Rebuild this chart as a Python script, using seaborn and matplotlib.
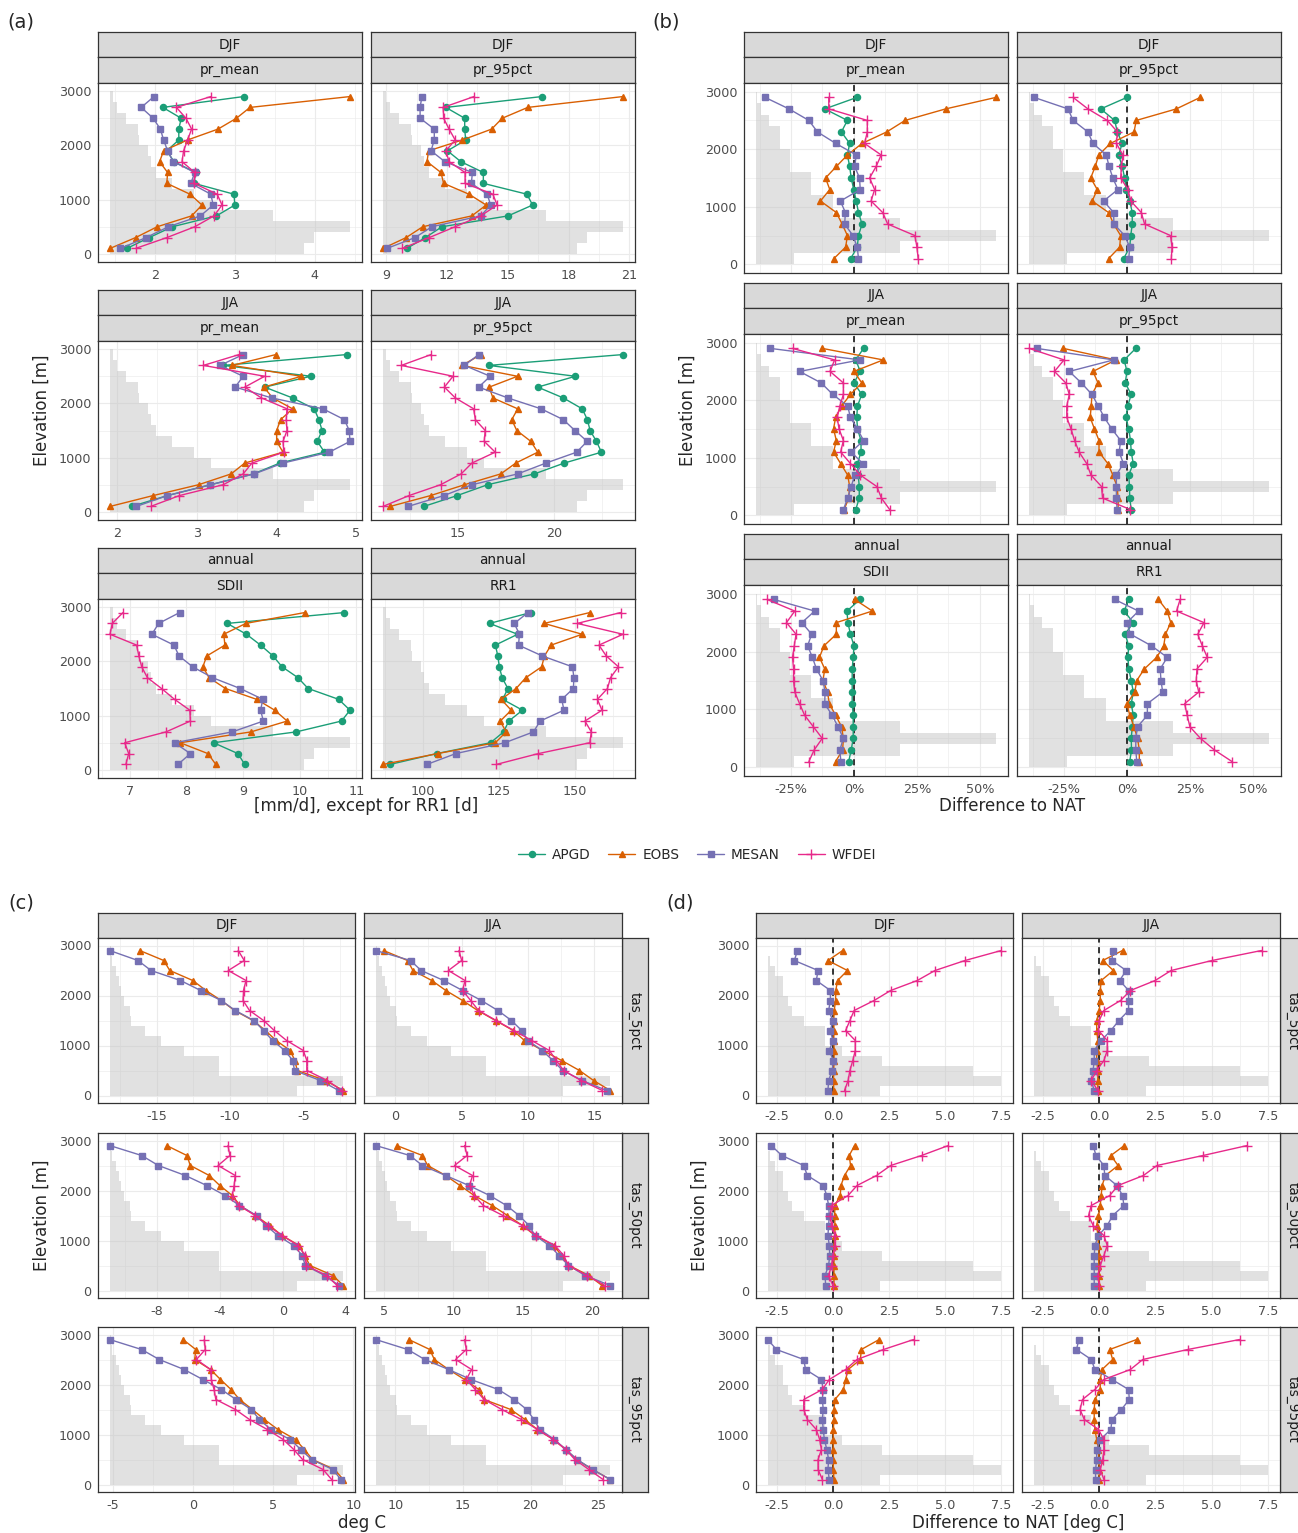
import pandas as pd
import matplotlib
matplotlib.use("Agg")
import matplotlib.pyplot as plt
from matplotlib.lines import Line2D
from matplotlib.ticker import AutoMinorLocator, MultipleLocator
import seaborn as sns

sns.set_style("white")
plt.rcParams["font.family"] = ["DejaVu Sans"]

# elevation bands (top to bottom), all series below follow this order
elev = [2900, 2700, 2500, 2300, 2100, 1900, 1700, 1500, 1300, 1100, 900, 700, 500, 300, 100]
datasets = ["APGD", "EOBS", "MESAN", "WFDEI"]

# relative area per elevation band (background histogram), one per panel group
hist_a = [0.014, 0.028, 0.067, 0.115, 0.12, 0.16, 0.17, 0.19, 0.26, 0.35, 0.42, 0.68, 1.0, 0.85, 0.81]
hist_b = [0.003, 0.02, 0.056, 0.10, 0.10, 0.14, 0.14, 0.23, 0.23, 0.32, 0.32, 0.60, 1.0, 0.60, 0.16]
hist_c = [0.004, 0.012, 0.025, 0.04, 0.05, 0.06, 0.085, 0.09, 0.15, 0.22, 0.32, 0.47, 0.47, 1.0, 0.80]
hist_d = [0.003, 0.01, 0.03, 0.067, 0.067, 0.086, 0.106, 0.155, 0.245, 0.245, 0.32, 0.49, 0.88, 1.0, 0.48]

# (a) absolute values
a_djf_mean_apgd = [3.11, 2.10, 2.33, 2.30, 2.30, 2.15, 2.24, 2.51, 2.49, 2.99, 3.00, 2.77, 2.22, 1.93, 1.65]
a_djf_mean_eobs = [4.44, 3.19, 3.02, 2.79, 2.41, 2.11, 2.06, 2.16, 2.15, 2.44, 2.59, 2.46, 2.03, 1.76, 1.44]
a_djf_mean_mesan = [1.99, 1.83, 1.98, 2.07, 2.11, 2.16, 2.23, 2.50, 2.45, 2.70, 2.73, 2.57, 2.17, 1.89, 1.57]
a_djf_mean_wfdei = [2.70, 2.27, 2.39, 2.46, 2.41, 2.36, 2.34, 2.50, 2.49, 2.78, 2.84, 2.74, 2.50, 2.15, 1.76]

a_djf_p95_apgd = [16.68, 11.94, 12.87, 12.87, 12.92, 12.02, 12.68, 13.79, 13.79, 15.94, 16.22, 15.01, 11.75, 10.93, 10.01]
a_djf_p95_eobs = [20.68, 15.98, 14.72, 14.20, 12.76, 11.09, 11.01, 11.70, 11.83, 13.08, 13.93, 13.22, 10.80, 9.98, 8.84]
a_djf_p95_mesan = [10.76, 10.67, 10.67, 11.37, 11.37, 11.21, 11.89, 13.25, 13.20, 13.98, 14.15, 13.66, 11.25, 10.42, 9.03]
a_djf_p95_wfdei = [13.33, 11.81, 11.83, 12.10, 12.40, 11.94, 12.10, 12.89, 12.89, 14.26, 14.47, 13.66, 12.40, 11.12, 9.78]

a_jja_mean_apgd = [4.88, 3.33, 4.43, 3.85, 4.20, 4.47, 4.53, 4.57, 4.51, 4.60, 4.04, 3.71, 3.17, 2.63, 2.18]
a_jja_mean_eobs = [3.99, 3.44, 4.31, 3.84, 3.95, 4.20, 4.05, 4.00, 4.00, 4.08, 3.60, 3.43, 3.02, 2.45, 1.91]
a_jja_mean_mesan = [3.58, 3.29, 3.58, 3.48, 3.94, 4.58, 4.85, 4.91, 4.92, 4.66, 4.08, 3.72, 3.17, 2.63, 2.24]
a_jja_mean_wfdei = [3.53, 3.08, 3.85, 3.60, 3.81, 4.13, 4.12, 4.13, 4.08, 4.09, 3.69, 3.58, 3.33, 2.78, 2.42]

a_jja_p95_apgd = [23.57, 16.59, 21.10, 19.14, 20.47, 21.45, 21.72, 21.86, 22.19, 22.45, 20.52, 18.97, 16.53, 14.95, 13.22]
a_jja_p95_eobs = [16.19, 15.21, 18.09, 16.62, 16.81, 18.10, 17.79, 18.05, 18.78, 19.14, 18.00, 17.22, 15.33, 13.57, 11.47]
a_jja_p95_mesan = [16.07, 15.33, 16.67, 16.07, 17.59, 19.31, 20.47, 21.07, 21.71, 21.16, 19.57, 18.10, 15.72, 14.26, 12.40]
a_jja_p95_wfdei = [13.60, 12.05, 14.74, 14.29, 14.86, 15.81, 15.90, 16.41, 16.36, 16.93, 15.72, 15.16, 14.09, 12.45, 11.10]

a_sdii_apgd = [10.79, 8.72, 9.06, 9.31, 9.53, 9.69, 9.97, 10.15, 10.69, 10.89, 10.74, 9.94, 8.48, 8.91, 9.03]
a_sdii_eobs = [10.09, 9.05, 8.66, 8.68, 8.36, 8.29, 8.40, 8.69, 9.24, 9.56, 9.78, 9.14, 7.89, 8.38, 8.52]
a_sdii_mesan = [7.88, 7.51, 7.39, 7.78, 7.87, 8.11, 8.46, 8.95, 9.35, 9.31, 9.36, 8.81, 7.79, 8.07, 7.85]
a_sdii_wfdei = [6.88, 6.69, 6.65, 7.12, 7.16, 7.21, 7.31, 7.56, 7.79, 8.06, 8.07, 7.64, 6.91, 6.98, 6.93]

a_rr1_apgd = [135.5, 122.0, 131.2, 123.9, 124.7, 125.2, 126.1, 128.0, 126.3, 132.8, 128.3, 126.6, 122.3, 104.6, 89.3]
a_rr1_eobs = [154.9, 139.9, 152.4, 142.2, 140.0, 139.1, 133.9, 130.7, 125.8, 129.1, 125.5, 127.4, 123.9, 104.9, 87.0]
a_rr1_mesan = [134.6, 130.1, 131.8, 131.5, 139.3, 149.2, 149.7, 149.5, 145.7, 146.4, 138.6, 136.4, 127.0, 110.9, 101.4]
a_rr1_wfdei = [165.0, 150.8, 165.8, 157.9, 160.3, 164.3, 161.7, 160.7, 157.4, 158.9, 153.3, 155.4, 154.9, 138.0, 124.2]

# (b) difference to NAT [%]
b_djf_mean_apgd = [1.2, -11.6, -2.6, -5.0, -1.7, -2.6, -1.7, -1.1, -0.1, 0.9, 1.8, 3.2, 1.8, 1.3, -1.3]
b_djf_mean_eobs = [56.4, 36.4, 20.3, 13.0, 3.2, -2.6, -7.0, -11.3, -9.6, -13.3, -7.0, -4.7, -2.6, -3.3, -8.0]
b_djf_mean_mesan = [-35.3, -25.8, -17.9, -14.5, -7.2, 0.9, 0.3, 2.2, 2.5, -5.4, -3.4, -3.7, -0.4, 1.3, 1.8]
b_djf_mean_wfdei = [-10.0, -10.0, 5.3, 5.3, 4.2, 10.8, 8.8, 6.2, 8.2, 6.8, 11.4, 13.4, 24.2, 25.0, 25.5]

b_djf_p95_apgd = [0.0, -10.4, -4.9, -3.8, -1.9, -3.3, -1.9, -0.9, -0.3, 1.1, 2.1, 2.1, 1.5, 1.1, -1.3]
b_djf_p95_eobs = [29.1, 19.6, 3.7, 2.8, -6.6, -11.2, -12.6, -14.4, -11.8, -13.8, -7.3, -5.3, -2.5, -2.9, -7.3]
b_djf_p95_mesan = [-36.9, -23.4, -21.4, -15.5, -13.5, -8.2, -7.1, -5.6, -3.6, -9.3, -5.3, -5.2, -0.9, 1.1, 0.7]
b_djf_p95_wfdei = [-21.4, -15.5, -7.8, -3.8, -4.2, -1.6, -2.2, -2.5, 0.4, 1.5, 5.7, 7.0, 17.3, 17.9, 17.6]

b_jja_mean_apgd = [3.8, 0.7, 2.5, 0.0, 3.1, 1.4, 1.1, 1.4, 2.8, 2.8, 1.4, 1.7, 2.1, 2.1, 0.7]
b_jja_mean_eobs = [-12.6, 11.6, 0.0, 3.1, -1.4, -4.9, -7.3, -8.1, -7.0, -8.1, -5.3, -2.5, -1.7, -2.1, -3.9]
b_jja_mean_mesan = [-33.2, 2.4, -21.6, -13.0, -8.4, -2.5, -1.4, 1.4, 3.8, -1.1, 3.5, 0.3, -1.1, -2.5, -4.2]
b_jja_mean_wfdei = [-24.4, -7.7, -9.5, -4.2, -4.2, -5.6, -6.7, -5.9, -4.2, -5.3, -1.4, 2.5, 9.1, 10.9, 14.2]

b_jja_p95_apgd = [3.5, -1.1, 0.0, -0.7, 1.7, 0.3, -0.4, 0.7, 1.4, 1.7, 2.5, 0.7, 1.0, 1.1, 1.7]
b_jja_p95_eobs = [-25.3, -4.4, -13.5, -11.5, -13.9, -14.2, -14.6, -12.9, -11.1, -11.1, -7.6, -5.6, -3.9, -3.5, -3.5]
b_jja_p95_mesan = [-35.8, -5.3, -22.9, -18.1, -13.9, -11.4, -9.0, -6.0, -2.5, -3.1, -1.4, -4.2, -4.2, -4.2, -3.9]
b_jja_p95_wfdei = [-38.9, -25.0, -28.8, -24.3, -22.9, -23.9, -23.9, -22.2, -20.8, -19.0, -16.0, -14.3, -10.1, -9.7, 1.4]

b_sdii_apgd = [2.4, -2.8, -2.4, -1.4, 0.0, -0.3, -0.7, -0.7, -0.7, -0.7, -0.3, -0.3, -0.3, -1.1, -2.1]
b_sdii_eobs = [0.3, 7.3, -7.0, -7.0, -11.9, -13.7, -11.6, -12.3, -10.5, -9.8, -7.3, -4.9, -4.2, -4.5, -7.3]
b_sdii_mesan = [-31.8, -15.6, -20.7, -16.8, -18.4, -16.5, -14.9, -12.3, -11.5, -11.6, -8.7, -6.3, -4.2, -5.6, -5.2]
b_sdii_wfdei = [-34.5, -23.5, -26.8, -23.0, -23.7, -24.4, -24.0, -24.0, -23.5, -21.6, -19.6, -16.1, -12.6, -15.8, -17.9]

b_rr1_apgd = [0.7, -1.1, 2.5, -0.7, 0.7, 0.4, 0.7, 1.7, 2.5, 1.7, 2.5, 2.1, 1.7, 1.8, 1.1]
b_rr1_eobs = [12.5, 16.0, 17.4, 15.3, 14.6, 11.8, 6.9, 3.9, 3.1, 0.0, 1.1, 2.8, 4.2, 4.9, 4.9]
b_rr1_mesan = [-4.9, 4.6, 0.0, 1.4, 9.7, 16.0, 13.2, 13.5, 14.2, 8.1, 8.1, 4.2, 3.5, 3.5, 3.9]
b_rr1_wfdei = [21.1, 19.7, 30.6, 28.1, 29.9, 31.9, 27.8, 27.5, 28.5, 22.9, 23.9, 25.0, 29.2, 34.7, 41.7]

# (c) temperature [deg C]
c_djf_p05_eobs = [-16.16, -14.52, -14.11, -12.54, -11.64, -10.60, -9.69, -8.43, -7.58, -6.86, -5.89, -5.58, -5.41, -3.48, -2.27]
c_djf_p05_mesan = [-18.21, -16.28, -15.39, -13.38, -12.00, -10.60, -9.64, -8.38, -7.71, -7.10, -6.26, -5.72, -5.60, -3.84, -2.58]
c_djf_p05_wfdei = [-9.44, -9.03, -10.12, -8.91, -9.08, -9.11, -8.67, -7.71, -6.98, -6.14, -5.00, -4.76, -4.76, -3.36, -2.39]

c_jja_p05_eobs = [-0.88, 0.93, 1.33, 2.75, 3.81, 5.07, 6.21, 7.55, 8.88, 9.73, 11.12, 12.53, 13.87, 14.93, 16.19]
c_jja_p05_mesan = [-1.47, 1.15, 1.95, 3.65, 5.07, 6.48, 7.73, 8.75, 9.52, 10.00, 11.07, 11.87, 12.61, 14.08, 15.92]
c_jja_p05_wfdei = [4.80, 5.00, 4.00, 5.25, 5.07, 5.68, 6.27, 7.60, 8.93, 10.27, 11.60, 12.13, 12.67, 14.00, 15.60]

c_djf_p50_eobs = [-7.38, -6.09, -5.87, -4.67, -4.00, -3.21, -2.71, -1.74, -0.84, -0.05, 1.04, 1.38, 1.72, 3.18, 3.84]
c_djf_p50_mesan = [-10.99, -8.96, -7.90, -6.19, -4.83, -3.66, -2.75, -1.67, -1.06, -0.32, 0.68, 1.24, 1.42, 2.66, 3.57]
c_djf_p50_wfdei = [-3.48, -3.36, -4.11, -3.02, -3.09, -3.21, -2.80, -1.74, -0.95, -0.05, 0.97, 1.42, 1.49, 2.78, 3.45]

c_jja_p50_eobs = [5.93, 7.78, 8.16, 9.45, 10.48, 11.50, 12.79, 13.89, 14.97, 15.87, 17.24, 17.75, 18.32, 19.73, 20.68]
c_jja_p50_mesan = [4.43, 6.88, 7.78, 9.45, 11.12, 12.61, 13.82, 14.72, 15.44, 15.87, 16.90, 17.60, 18.27, 19.47, 21.27]
c_jja_p50_wfdei = [10.81, 10.99, 10.09, 11.38, 11.17, 11.50, 12.15, 13.56, 14.97, 15.95, 17.29, 17.93, 18.27, 19.60, 20.89]

c_djf_p95_eobs = [-0.62, 0.18, 0.11, 1.10, 1.72, 2.38, 2.91, 3.71, 4.46, 5.30, 6.40, 6.95, 7.46, 8.83, 9.38]
c_djf_p95_mesan = [-5.19, -3.20, -2.10, -0.55, 0.62, 1.77, 2.69, 3.64, 4.15, 4.86, 6.07, 6.73, 7.40, 8.72, 9.23]
c_djf_p95_wfdei = [0.71, 0.77, 0.22, 1.10, 1.15, 1.32, 1.43, 2.65, 3.53, 4.64, 5.63, 6.29, 6.84, 8.12, 8.65]

c_jja_p95_eobs = [11.00, 12.55, 12.89, 13.94, 15.12, 16.17, 16.56, 18.53, 19.58, 20.50, 21.68, 22.60, 23.39, 24.57, 25.88]
c_jja_p95_mesan = [8.56, 10.92, 12.18, 13.94, 15.59, 17.61, 18.79, 19.71, 20.24, 20.68, 21.76, 22.60, 23.44, 24.57, 25.88]
c_jja_p95_wfdei = [15.12, 15.25, 14.46, 15.64, 15.25, 15.91, 16.56, 17.87, 19.32, 20.50, 21.68, 22.60, 23.26, 24.30, 25.35]

# (d) temperature difference to NAT [deg C]
d_djf_p05_eobs = [0.44, -0.22, 0.65, 0.21, 0.13, 0.12, 0.06, 0.04, 0.05, 0.04, 0.06, 0.05, 0.04, 0.03, 0.04]
d_djf_p05_mesan = [-1.58, -1.72, -0.66, -0.74, -0.11, -0.11, -0.19, 0.00, -0.11, 0.00, -0.16, 0.02, -0.03, -0.19, -0.22]
d_djf_p05_wfdei = [7.52, 5.90, 4.56, 3.77, 2.58, 1.84, 0.95, 0.76, 0.57, 1.00, 1.00, 0.89, 0.76, 0.68, 0.52]

d_jja_p05_eobs = [1.04, 0.16, 0.63, 0.09, 0.05, 0.05, 0.00, -0.11, -0.11, -0.06, -0.11, -0.11, -0.06, -0.06, -0.06]
d_jja_p05_mesan = [0.60, 0.57, 1.20, 0.91, 1.31, 1.31, 1.31, 0.88, 0.52, 0.09, -0.22, -0.22, -0.27, -0.35, -0.22]
d_jja_p05_wfdei = [7.22, 5.02, 3.20, 2.49, 1.39, 0.95, 0.21, 0.00, -0.03, 0.36, 0.36, 0.21, -0.11, -0.35, -0.06]

d_djf_p50_eobs = [0.97, 0.73, 0.79, 0.52, 0.36, 0.33, 0.09, 0.08, 0.09, 0.09, 0.05, 0.05, 0.05, 0.05, 0.05]
d_djf_p50_mesan = [-2.75, -2.28, -1.30, -1.14, -0.43, -0.27, -0.19, -0.16, -0.19, -0.22, -0.16, -0.14, -0.19, -0.35, -0.32]
d_djf_p50_wfdei = [5.16, 3.96, 2.58, 1.95, 1.08, 0.68, -0.06, -0.11, -0.06, 0.09, 0.09, 0.00, -0.06, -0.19, 0.00]

d_jja_p50_eobs = [1.12, 0.52, 0.84, 0.28, 0.13, 0.09, 0.05, -0.03, -0.11, -0.06, -0.03, 0.00, -0.03, 0.00, 0.00]
d_jja_p50_mesan = [-0.27, -0.14, 0.21, 0.25, 0.79, 1.04, 1.10, 0.60, 0.36, -0.03, -0.19, -0.22, -0.22, -0.22, -0.22]
d_jja_p50_wfdei = [6.59, 4.62, 2.57, 1.97, 0.84, 0.47, -0.35, -0.47, -0.27, 0.21, 0.36, 0.21, 0.05, -0.06, 0.00]

d_djf_p95_eobs = [2.07, 1.27, 1.23, 0.68, 0.57, 0.47, 0.09, 0.05, 0.05, 0.02, 0.02, 0.02, 0.02, 0.02, 0.05]
d_djf_p95_mesan = [-2.91, -2.52, -1.30, -1.22, -0.51, -0.43, -0.47, -0.43, -0.47, -0.43, -0.38, -0.27, -0.19, -0.22, -0.16]
d_djf_p95_wfdei = [3.61, 2.26, 1.08, 0.57, -0.16, -0.47, -1.30, -1.30, -1.14, -0.74, -0.59, -0.51, -0.66, -0.66, -0.47]

d_jja_p95_eobs = [1.67, 0.47, 0.60, 0.13, 0.05, 0.05, -0.19, -0.22, -0.22, -0.19, -0.11, -0.03, 0.00, 0.00, 0.00]
d_jja_p95_mesan = [-0.90, -1.01, -0.35, -0.19, 0.57, 1.31, 1.34, 0.99, 0.57, 0.52, 0.05, -0.11, -0.11, -0.16, -0.16]
d_jja_p95_wfdei = [6.25, 3.94, 1.94, 1.39, 0.21, -0.19, -0.74, -0.85, -0.66, -0.03, 0.21, 0.21, 0.16, 0.05, 0.21]

# tick labels
y_ticks = [0, 1000, 2000, 3000]
b_ticks = [-25, 0, 25, 50]
d_ticks = [-2.5, 0.0, 2.5, 5.0, 7.5]

colors = {"APGD": "#1B9E77", "EOBS": "#D95F02", "MESAN": "#7570B3", "WFDEI": "#E7298A"}
markers = {"APGD": "o", "EOBS": "^", "MESAN": "s", "WFDEI": "+"}
msizes = {"APGD": 4.4, "EOBS": 5.0, "MESAN": 4.4, "WFDEI": 7.5}

TICK_FS = 9.2
STRIP_FS = 9.8
TITLE_FS = 12

W, H = 1298, 1533
fig = plt.figure(figsize=(W / 100, H / 100), dpi=100)
fig.patch.set_facecolor("white")


def px_axes(x0, y0, x1, y1):
    return fig.add_axes([x0 / W, 1 - y1 / H, (x1 - x0) / W, (y1 - y0) / H])


def strip(x0, y0, x1, y1, label, rotation=0):
    ax = px_axes(x0, y0, x1, y1)
    ax.set_facecolor("#D9D9D9")
    ax.set_xticks([])
    ax.set_yticks([])
    for s in ax.spines.values():
        s.set_color("#333333")
        s.set_linewidth(0.9)
    ax.text(0.5, 0.5, label, ha="center", va="center", rotation=rotation,
            fontsize=STRIP_FS, color="#1A1A1A", transform=ax.transAxes)


def data_range(series_list):
    vals = [x for s in series_list for lst in s.values() for x in lst]
    return min(vals), max(vals)


def facet(rect, series, hist, lims, ticks, labels, show_y, show_x, zero):
    ax = px_axes(*rect)
    ax.set_facecolor("white")
    lo, hi = lims
    pad = 0.05 * (hi - lo)
    ax.set_axisbelow(True)
    # background histogram of area per elevation band, scaled to the data range
    ax.barh(elev, [f * (hi - lo) for f in hist], left=lo, height=200,
            color="#C4C4C4", alpha=0.5, linewidth=0, zorder=1)
    if zero:
        ax.axvline(0, color="black", ls=(0, (4, 3)), lw=1.1, zorder=2)
    frames = [pd.DataFrame({"value": v, "elevation": elev, "dataset": k}) for k, v in series.items()]
    long = pd.concat(frames, ignore_index=True)
    for name in series:
        sub = long[long["dataset"] == name]
        sns.lineplot(data=sub, x="value", y="elevation", orient="y", estimator=None,
                     color=colors[name], lw=1.0, marker=markers[name], ms=msizes[name],
                     mec=colors[name], mfc=colors[name], mew=1.0, ax=ax, zorder=3)
    ax.set_xlim(lo - pad, hi + pad)
    ax.set_ylim(-150, 3150)
    ax.set_xticks(ticks)
    ax.set_xticklabels(labels if show_x else [])
    ax.set_yticks(y_ticks)
    ax.set_yticklabels([str(t) for t in y_ticks] if show_y else [])
    ax.xaxis.set_minor_locator(AutoMinorLocator(2))
    ax.yaxis.set_minor_locator(MultipleLocator(500))
    ax.grid(which="major", color="#EBEBEB", lw=0.8)
    ax.grid(which="minor", color="#EBEBEB", lw=0.45)
    ax.tick_params(which="major", length=3, color="#333333", labelcolor="#4D4D4D",
                   labelsize=TICK_FS, pad=2, width=0.8)
    ax.tick_params(which="minor", length=0)
    if not show_y:
        ax.tick_params(axis="y", length=0)
    if not show_x:
        ax.tick_params(axis="x", length=0)
    ax.set_xlabel("")
    ax.set_ylabel("")
    for s in ax.spines.values():
        s.set_color("#333333")
        s.set_linewidth(0.9)
    return ax


def mk(apgd, eobs, mesan, wfdei):
    d = {"APGD": apgd, "EOBS": eobs, "MESAN": mesan, "WFDEI": wfdei}
    return {k: v for k, v in d.items() if v is not None}


# ---------- panel (a) ----------
a_facets = [
    ("DJF", "pr_mean", mk(a_djf_mean_apgd, a_djf_mean_eobs, a_djf_mean_mesan, a_djf_mean_wfdei), [2, 3, 4]),
    ("DJF", "pr_95pct", mk(a_djf_p95_apgd, a_djf_p95_eobs, a_djf_p95_mesan, a_djf_p95_wfdei), [9, 12, 15, 18, 21]),
    ("JJA", "pr_mean", mk(a_jja_mean_apgd, a_jja_mean_eobs, a_jja_mean_mesan, a_jja_mean_wfdei), [2, 3, 4, 5]),
    ("JJA", "pr_95pct", mk(a_jja_p95_apgd, a_jja_p95_eobs, a_jja_p95_mesan, a_jja_p95_wfdei), [15, 20]),
    ("annual", "SDII", mk(a_sdii_apgd, a_sdii_eobs, a_sdii_mesan, a_sdii_wfdei), [7, 8, 9, 10, 11]),
    ("annual", "RR1", mk(a_rr1_apgd, a_rr1_eobs, a_rr1_mesan, a_rr1_wfdei), [100, 125, 150]),
]
a_cols = [(98, 362), (371, 635)]
a_rows = [(32, 57, 83, 262), (290, 315, 341, 520), (548, 573, 599, 778)]
for i, (season, var, series, ticks) in enumerate(a_facets):
    r, c = divmod(i, 2)
    x0, x1 = a_cols[c]
    s0, s1, p0, p1 = a_rows[r]
    strip(x0, s0, x1, s1, season)
    strip(x0, s1, x1, p0, var)
    facet((x0, p0, x1, p1), series, hist_a, data_range([series]), ticks,
          [str(t) for t in ticks], c == 0, True, False)

# ---------- panel (b) ----------
b_facets = [
    ("DJF", "pr_mean", mk(b_djf_mean_apgd, b_djf_mean_eobs, b_djf_mean_mesan, b_djf_mean_wfdei)),
    ("DJF", "pr_95pct", mk(b_djf_p95_apgd, b_djf_p95_eobs, b_djf_p95_mesan, b_djf_p95_wfdei)),
    ("JJA", "pr_mean", mk(b_jja_mean_apgd, b_jja_mean_eobs, b_jja_mean_mesan, b_jja_mean_wfdei)),
    ("JJA", "pr_95pct", mk(b_jja_p95_apgd, b_jja_p95_eobs, b_jja_p95_mesan, b_jja_p95_wfdei)),
    ("annual", "SDII", mk(b_sdii_apgd, b_sdii_eobs, b_sdii_mesan, b_sdii_wfdei)),
    ("annual", "RR1", mk(b_rr1_apgd, b_rr1_eobs, b_rr1_mesan, b_rr1_wfdei)),
]
b_lims = data_range([f[2] for f in b_facets])
b_cols = [(744, 1008), (1017, 1281)]
b_rows = [(32, 57, 83, 273), (283, 308, 334, 524), (534, 559, 585, 776)]
for i, (season, var, series) in enumerate(b_facets):
    r, c = divmod(i, 2)
    x0, x1 = b_cols[c]
    s0, s1, p0, p1 = b_rows[r]
    strip(x0, s0, x1, s1, season)
    strip(x0, s1, x1, p0, var)
    facet((x0, p0, x1, p1), series, hist_b, b_lims, b_ticks,
          [f"{t}%" for t in b_ticks], c == 0, r == 2, True)

# ---------- panels (c) and (d) ----------
c_facets = [
    ("tas_5pct", mk(None, c_djf_p05_eobs, c_djf_p05_mesan, c_djf_p05_wfdei), [-15, -10, -5]),
    ("tas_5pct", mk(None, c_jja_p05_eobs, c_jja_p05_mesan, c_jja_p05_wfdei), [0, 5, 10, 15]),
    ("tas_50pct", mk(None, c_djf_p50_eobs, c_djf_p50_mesan, c_djf_p50_wfdei), [-8, -4, 0, 4]),
    ("tas_50pct", mk(None, c_jja_p50_eobs, c_jja_p50_mesan, c_jja_p50_wfdei), [5, 10, 15, 20]),
    ("tas_95pct", mk(None, c_djf_p95_eobs, c_djf_p95_mesan, c_djf_p95_wfdei), [-5, 0, 5, 10]),
    ("tas_95pct", mk(None, c_jja_p95_eobs, c_jja_p95_mesan, c_jja_p95_wfdei), [10, 15, 20, 25]),
]
d_facets = [
    ("tas_5pct", mk(None, d_djf_p05_eobs, d_djf_p05_mesan, d_djf_p05_wfdei)),
    ("tas_5pct", mk(None, d_jja_p05_eobs, d_jja_p05_mesan, d_jja_p05_wfdei)),
    ("tas_50pct", mk(None, d_djf_p50_eobs, d_djf_p50_mesan, d_djf_p50_wfdei)),
    ("tas_50pct", mk(None, d_jja_p50_eobs, d_jja_p50_mesan, d_jja_p50_wfdei)),
    ("tas_95pct", mk(None, d_djf_p95_eobs, d_djf_p95_mesan, d_djf_p95_wfdei)),
    ("tas_95pct", mk(None, d_jja_p95_eobs, d_jja_p95_mesan, d_jja_p95_wfdei)),
]
seasons = ["DJF", "JJA"]
cd_rows = [(938, 1103), (1133, 1298), (1327, 1492)]
c_cols = [(98, 355), (364, 622)]
d_cols = [(756, 1013), (1022, 1280)]
for c in range(2):
    strip(c_cols[c][0], 913, c_cols[c][1], 938, seasons[c])
    strip(d_cols[c][0], 913, d_cols[c][1], 938, seasons[c])
for r in range(3):
    strip(622, cd_rows[r][0], 648, cd_rows[r][1], c_facets[2 * r][0], rotation=-90)
    strip(1280, cd_rows[r][0], 1306, cd_rows[r][1], d_facets[2 * r][0], rotation=-90)

d_lims = data_range([f[1] for f in d_facets])
for i in range(6):
    r, c = divmod(i, 2)
    var, series, ticks = c_facets[i]
    facet((c_cols[c][0], cd_rows[r][0], c_cols[c][1], cd_rows[r][1]), series, hist_c,
          data_range([series]), ticks, [str(t) for t in ticks], c == 0, True, False)
    facet((d_cols[c][0], cd_rows[r][0], d_cols[c][1], cd_rows[r][1]), d_facets[i][1], hist_d,
          d_lims, d_ticks, [f"{t:.1f}" for t in d_ticks], c == 0, True, True)


# ---------- titles, labels, legend ----------
def ftext(x, y, s, **kw):
    fig.text(x / W, 1 - y / H, s, ha="center", va="center", **kw)


ftext(21, 22, "(a)", fontsize=14)
ftext(666, 22, "(b)", fontsize=14)
ftext(21, 903, "(c)", fontsize=14)
ftext(680, 903, "(d)", fontsize=14)

ftext(366, 806, "[mm/d], except for RR1 [d]", fontsize=TITLE_FS)
ftext(1012, 806, "Difference to NAT", fontsize=TITLE_FS)
ftext(362, 1523, "deg C", fontsize=TITLE_FS)
ftext(1018, 1523, "Difference to NAT [deg C]", fontsize=TITLE_FS)
for x, y in [(42, 410), (688, 410), (42, 1215), (700, 1215)]:
    ftext(x, y, "Elevation [m]", fontsize=TITLE_FS, rotation=90)

handles = [Line2D([0], [0], color=colors[k], lw=1.0, marker=markers[k], ms=msizes[k],
                  mec=colors[k], mfc=colors[k], mew=1.0) for k in datasets]
fig.legend(handles, datasets, loc="center", bbox_to_anchor=(697 / W, 1 - 855 / H), ncol=4,
           frameon=False, fontsize=9.8, handlelength=2.0, columnspacing=1.3, handletextpad=0.5)

fig.savefig("out.png", dpi=100)
